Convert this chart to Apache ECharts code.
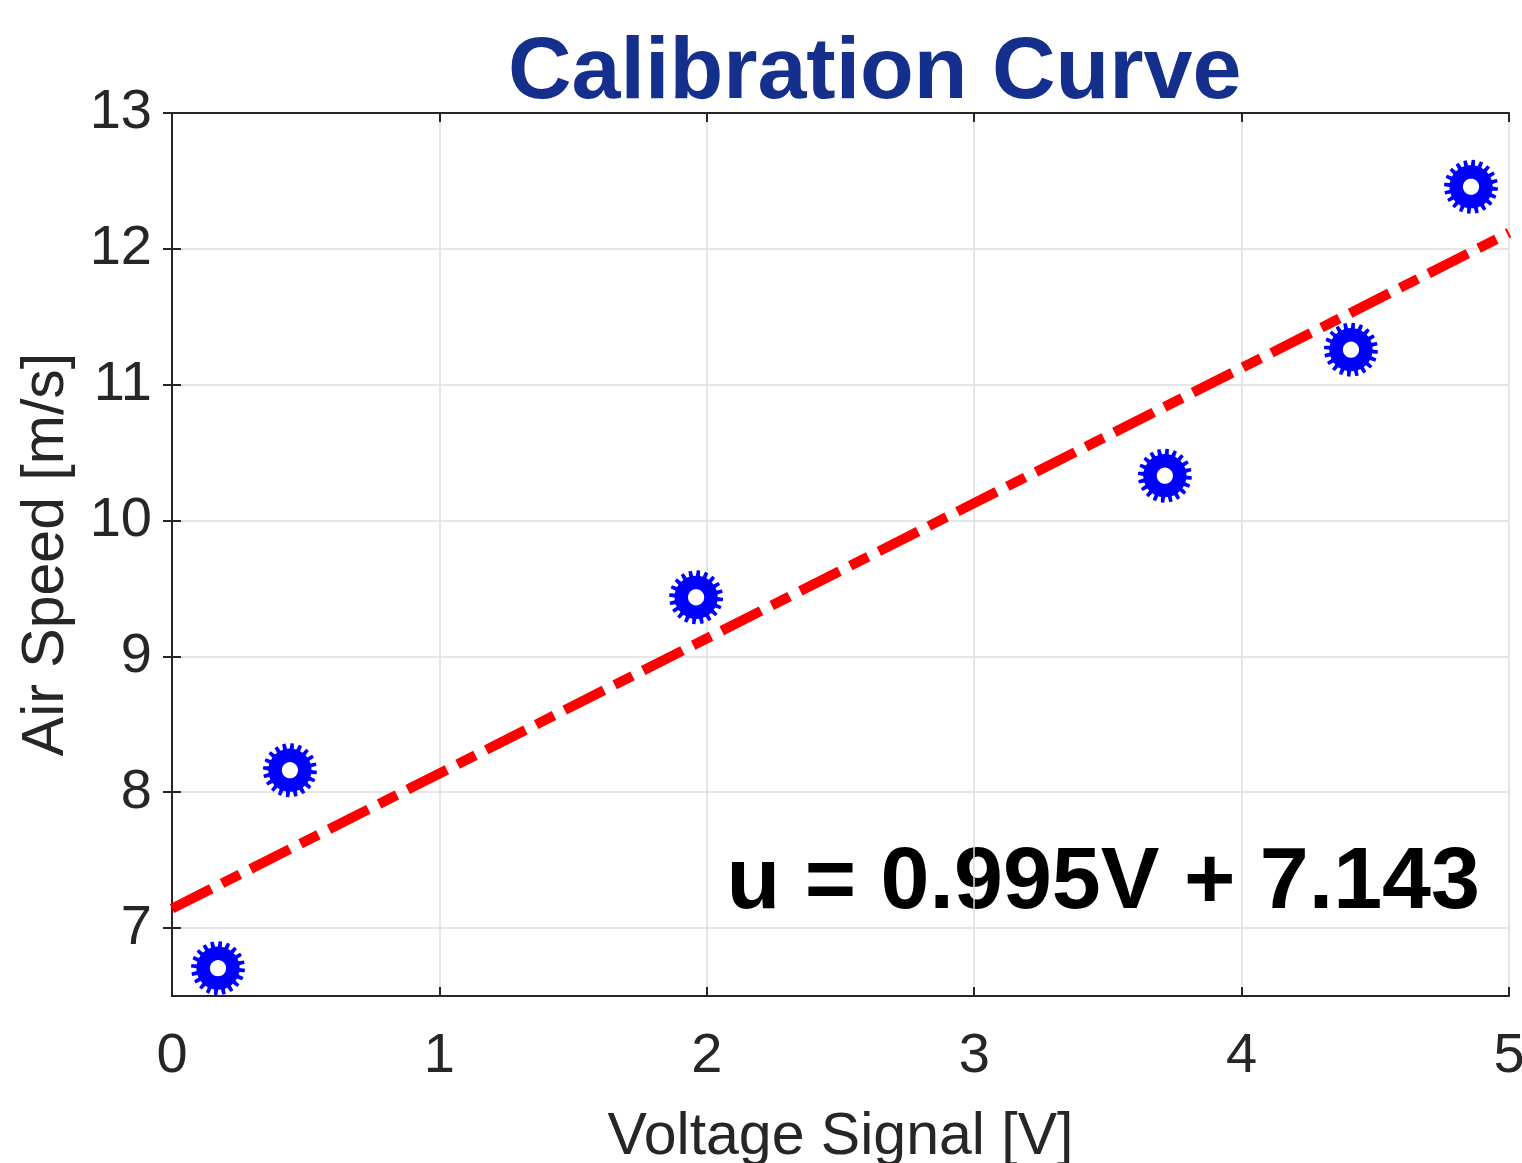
<!DOCTYPE html>
<html>
<head>
<meta charset="utf-8">
<title>Calibration Curve</title>
<script src="https://cdn.jsdelivr.net/npm/echarts@6/dist/echarts.min.js"></script>
<style>
  html, body { margin: 0; padding: 0; background: #fff; }
  #main { width: 1522px; height: 1163px; }
</style>
</head>
<body>
<div id="main"></div>
<script>
// measured points: voltage [V] vs air speed [m/s]
const voltage = [0.172, 0.441, 1.96, 3.713, 4.409, 4.858];
const airSpeed = [6.705, 8.162, 9.435, 10.33, 11.258, 12.457];

// linear fit end points, u = 0.995V + 7.143
const fitV = [0, 5];
const fitU = [7.143, 12.118];

const xTicks = [0, 1, 2, 3, 4, 5];
const yTicks = [7, 8, 9, 10, 11, 12, 13];

const equationText = 'u = 0.995V + 7.143';

// gear-like marker (ring with teeth and a hole)
function gearPath() {
    const n = 20, R = 50, r = 40, hole = 15, c = 50;
    let d = '';
    for (let i = 0; i < n; i++) {
        const a0 = i * 2 * Math.PI / n;
        const h = Math.PI / n;
        const pts = [[R, a0 + h * 0.15], [R, a0 + h * 0.95], [r, a0 + h * 1.15], [r, a0 + h * 1.95]];
        pts.forEach((p, j) => {
            const x = (c + p[0] * Math.cos(p[1])).toFixed(2);
            const y = (c + p[0] * Math.sin(p[1])).toFixed(2);
            d += (i === 0 && j === 0 ? 'M' : 'L') + x + ' ' + y + ' ';
        });
    }
    d += 'Z ';
    // hole, opposite winding
    for (let k = 0; k <= 32; k++) {
        const a = -k * 2 * Math.PI / 32;
        const x = (c + hole * Math.cos(a)).toFixed(2);
        const y = (c + hole * Math.sin(a)).toFixed(2);
        d += (k === 0 ? 'M' : 'L') + x + ' ' + y + ' ';
    }
    d += 'Z';
    return 'path://' + d;
}

const chart = echarts.init(document.getElementById('main'));
const font = '"Liberation Sans", Arial, Helvetica, sans-serif';
const axisColor = '#262626';

const commonAxis = {
    axisLine: { show: true, lineStyle: { color: axisColor, width: 2 } },
    axisTick: { show: true, inside: true, length: 9, lineStyle: { color: axisColor, width: 2 } },
    splitLine: { show: false },
    axisLabel: { show: false }
};

chart.setOption({
    animation: false,
    backgroundColor: '#fff',
    title: {
        text: 'Calibration Curve',
        left: 503,
        top: 25,
        textStyle: { fontFamily: font, fontSize: 88, fontWeight: 'bold', color: '#15308c' }
    },
    grid: { left: 172, right: 13, top: 113, bottom: 167, containLabel: false, outerBoundsMode: 'none' },
    xAxis: [{
        type: 'value', min: 0, max: 5, interval: 1, position: 'bottom',
        name: 'Voltage Signal [V]', nameLocation: 'middle', nameGap: 112,
        nameTextStyle: { fontFamily: font, fontSize: 59, color: axisColor },
        axisLine: { show: true, onZero: false, lineStyle: { color: axisColor, width: 2 } },
        axisTick: { show: true, inside: true, length: 9, lineStyle: { color: axisColor, width: 2 } },
        axisLabel: {
            fontFamily: font, fontSize: 56, color: axisColor, margin: 33,
            formatter: v => xTicks.includes(v) ? String(v) : ''
        },
        splitLine: { show: true, lineStyle: { color: '#dedede', width: 1.5 } }
    }, Object.assign({ type: 'value', min: 0, max: 5, interval: 1, position: 'top' }, commonAxis)],
    yAxis: [{
        type: 'value', min: 6.5, max: 13, position: 'left',
        name: 'Air Speed [m/s]', nameLocation: 'middle', nameGap: 96,
        nameTextStyle: { fontFamily: font, fontSize: 59, color: axisColor },
        axisLine: { show: true, onZero: false, lineStyle: { color: axisColor, width: 2 } },
        axisTick: {
            show: true, inside: true, length: 9, lineStyle: { color: axisColor, width: 2 },
            customValues: yTicks
        },
        axisLabel: {
            fontFamily: font, fontSize: 56, color: axisColor, margin: 20,
            customValues: yTicks
        },
        splitLine: { show: true, lineStyle: { color: '#dedede', width: 1.5 } }
    }, Object.assign({ type: 'value', min: 6.5, max: 13, position: 'right' }, commonAxis, {
        axisTick: { show: true, inside: true, length: 9, lineStyle: { color: axisColor, width: 2 }, customValues: yTicks }
    })],
    series: [{
        type: 'line',
        data: fitV.map((v, i) => [v, fitU[i]]),
        showSymbol: false,
        symbol: 'none',
        clip: false,
        z: 2,
        lineStyle: { color: '#ff0000', width: 10, type: [44, 12, 20, 12], cap: 'butt' }
    }, {
        type: 'scatter',
        data: voltage.map((v, i) => [v, airSpeed[i]]),
        symbol: gearPath(),
        symbolSize: 54,
        z: 3,
        itemStyle: { color: '#0000ff', opacity: 1 }
    }],
    graphic: [{
        type: 'text',
        right: 1522 - 1480,
        top: 840,
        style: {
            text: equationText,
            font: 'bold 88px ' + font,
            fill: '#000'
        }
    }]
});
</script>
</body>
</html>
